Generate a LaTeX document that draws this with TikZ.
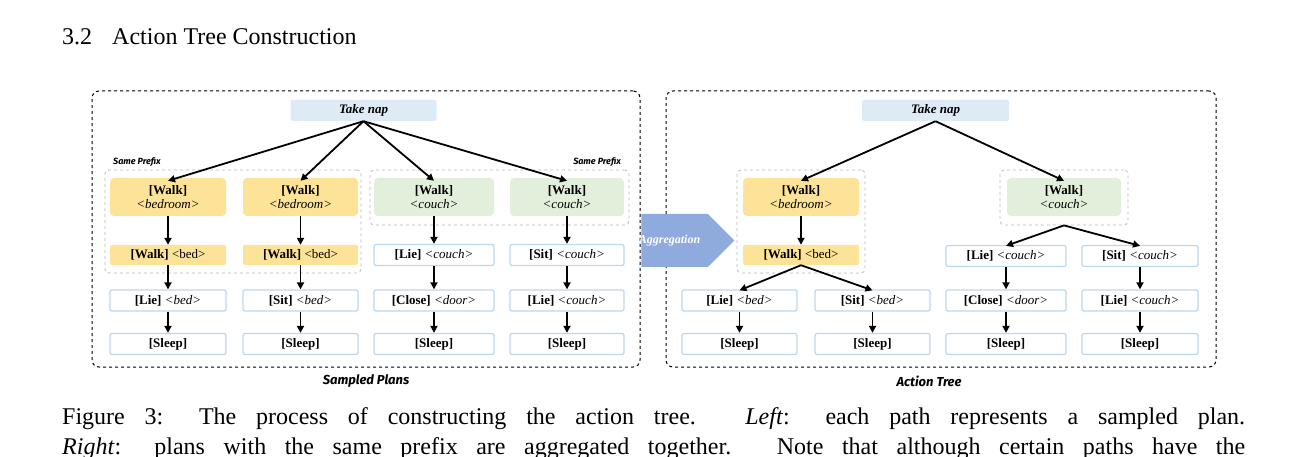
\documentclass[tikz,border=0pt]{standalone}
\usepackage{fontspec}
\setmainfont{Liberation Serif}
\newfontfamily\comicf{Fira Sans}
\usetikzlibrary{arrows.meta,shapes.arrows}
\definecolor{ylw}{HTML}{FDE398}
\definecolor{grn}{HTML}{E2EFDA}
\definecolor{lblue}{HTML}{DEEBF7}
\definecolor{bord}{HTML}{BDD7EE}
\definecolor{aggc}{HTML}{8FAADC}
\tikzset{
 every node/.style={inner sep=0pt, font=\fontsize{13}{14}\selectfont},
 tn/.style={fill=lblue, rounded corners=1.5pt, minimum width=146pt, minimum height=21pt, font=\fontsize{13}{14}\selectfont\bfseries\itshape},
 walkY/.style={fill=ylw, rounded corners=4pt, minimum height=38pt, align=center},
 walkG/.style={fill=grn, rounded corners=4pt, minimum height=38pt, align=center},
 bedY/.style={fill=ylw, rounded corners=2pt, minimum height=20pt},
 act/.style={draw=bord, line width=1.3pt, fill=white, rounded corners=2pt, minimum height=21pt},
 pfxbox/.style={draw=gray!55, dashed, rounded corners=4pt, line width=0.8pt},
 outerbox/.style={draw=black, dashed, rounded corners=7pt, line width=1pt},
 arr/.style={-{Triangle[length=7pt,width=7pt]}, line width=1.8pt},
 lab/.style={font=\comicf\fontsize{9}{10}\selectfont\bfseries\itshape},
 biglab/.style={font=\comicf\fontsize{13}{14}\selectfont\bfseries\itshape},
}
\begin{document}
\begin{tikzpicture}[x=1pt,y=-1pt]
\useasboundingbox (0,0) rectangle (1307,457);
\node[anchor=base west, font=\fontsize{24}{26}\selectfont] (hdr) at (62,45) {3.2\hspace{20pt}\textsc{Action Tree Construction}};
% outer boxes
\node[outerbox, minimum width=548pt, minimum height=276pt] (OL) at (366,229) {};
\node[outerbox, minimum width=550pt, minimum height=276pt] (OR) at (941,229) {};
\node[biglab] (lsp) at (366,381) {Sampled Plans};
\node[biglab] (lat) at (929,381) {Action Tree};
% prefix boxes
\node[pfxbox, minimum width=256pt, minimum height=103pt] (PL) at (233,221.5) {};
\node[pfxbox, minimum width=259pt, minimum height=55pt] (PR) at (499.5,197.5) {};
\node[lab, anchor=south west] (spl) at (113,167) {Same Prefix};
\node[lab, anchor=south east] (spr) at (621,167) {Same Prefix};
% left tree
\node[tn] (tnL) at (363.5,110.5) {Take nap};
\node[walkY, minimum width=116pt] (W1) at (168,197) {\textbf{[Walk]}\\\textit{<bedroom>}};
\node[walkY, minimum width=115pt] (W2) at (300.5,197) {\textbf{[Walk]}\\\textit{<bedroom>}};
\node[walkG, minimum width=120pt] (W3) at (434,197) {\textbf{[Walk]}\\\textit{<couch>}};
\node[walkG, minimum width=114pt] (W4) at (567,197) {\textbf{[Walk]}\\\textit{<couch>}};
\node[bedY, minimum width=116pt] (B1) at (168,255) {\textbf{[Walk]} <bed>};
\node[bedY, minimum width=115pt] (B2) at (300.5,255) {\textbf{[Walk]} <bed>};
\node[act, minimum width=120pt] (C3a) at (434,255) {\textbf{[Lie]} \textit{<couch>}};
\node[act, minimum width=114pt] (C4a) at (567,255) {\textbf{[Sit]} \textit{<couch>}};
\node[act, minimum width=116pt] (C1b) at (168,300.5) {\textbf{[Lie]} \textit{<bed>}};
\node[act, minimum width=115pt] (C2b) at (300.5,300.5) {\textbf{[Sit]} \textit{<bed>}};
\node[act, minimum width=120pt] (C3b) at (434,300.5) {\textbf{[Close]} \textit{<door>}};
\node[act, minimum width=114pt] (C4b) at (567,300.5) {\textbf{[Lie]} \textit{<couch>}};
\node[act, minimum width=116pt] (S1) at (168,344) {\textbf{[Sleep]}};
\node[act, minimum width=115pt] (S2) at (300.5,344) {\textbf{[Sleep]}};
\node[act, minimum width=120pt] (S3) at (434,344) {\textbf{[Sleep]}};
\node[act, minimum width=114pt] (S4) at (567,344) {\textbf{[Sleep]}};
\foreach \w in {W1,W2,W3,W4} \draw[arr] (tnL.south) -- ([yshift=-3pt]\w.north);
\draw[arr] (W1) -- (B1); \draw[arr] (B1) -- (C1b); \draw[arr] (C1b) -- (S1);
\draw[arr] (W2) -- (B2); \draw[arr] (B2) -- (C2b); \draw[arr] (C2b) -- (S2);
\draw[arr] (W3) -- (C3a); \draw[arr] (C3a) -- (C3b); \draw[arr] (C3b) -- (S3);
\draw[arr] (W4) -- (C4a); \draw[arr] (C4a) -- (C4b); \draw[arr] (C4b) -- (S4);
% aggregation arrow
\node[single arrow, fill=aggc, minimum height=93pt, minimum width=53pt, single arrow head extend=0pt, single arrow tip angle=90, inner sep=0pt, text=white, font=\fontsize{12}{13}\selectfont\bfseries\itshape] (agg) at (674.5,240.5) {\hspace{-10pt}Aggregation};
% right tree
\node[pfxbox, minimum width=128pt, minimum height=103pt] (PA) at (801,221.5) {};
\node[pfxbox, minimum width=128pt, minimum height=55pt] (PB) at (1064,197.5) {};
\node[tn, minimum width=147pt] (tnR) at (935.5,110.5) {Take nap};
\node[walkY, minimum width=116pt] (RW1) at (801,197) {\textbf{[Walk]}\\\textit{<bedroom>}};
\node[bedY, minimum width=116pt] (RB1) at (801,255) {\textbf{[Walk]} <bed>};
\node[walkG, minimum width=114pt] (RW2) at (1064,197) {\textbf{[Walk]}\\\textit{<couch>}};
\node[act, minimum width=115pt] (RL1) at (739.5,300.5) {\textbf{[Lie]} \textit{<bed>}};
\node[act, minimum width=115pt] (RS1) at (872.5,300.5) {\textbf{[Sit]} \textit{<bed>}};
\node[act, minimum width=115pt] (RZ1) at (739.5,344) {\textbf{[Sleep]}};
\node[act, minimum width=115pt] (RZ2) at (872.5,344) {\textbf{[Sleep]}};
\node[act, minimum width=120pt] (RLc) at (1006,256) {\textbf{[Lie]} \textit{<couch>}};
\node[act, minimum width=116pt] (RSc) at (1140,256) {\textbf{[Sit]} \textit{<couch>}};
\node[act, minimum width=120pt] (RCl) at (1006,300.5) {\textbf{[Close]} \textit{<door>}};
\node[act, minimum width=116pt] (RLc2) at (1140,300.5) {\textbf{[Lie]} \textit{<couch>}};
\node[act, minimum width=120pt] (RZ3) at (1006,344) {\textbf{[Sleep]}};
\node[act, minimum width=116pt] (RZ4) at (1140,344) {\textbf{[Sleep]}};
\draw[arr] (tnR.south) -- ([yshift=-3pt]RW1.north);
\draw[arr] (tnR.south) -- ([yshift=-3pt]RW2.north);
\draw[arr] (RW1) -- (RB1);
\draw[arr] (RB1.south) -- ([yshift=-1pt]RL1.north);
\draw[arr] (RB1.south) -- ([yshift=-1pt]RS1.north);
\draw[arr] (RL1) -- (RZ1); \draw[arr] (RS1) -- (RZ2);
\draw[arr] (PB.south) -- ([yshift=-1pt]RLc.north);
\draw[arr] (PB.south) -- ([yshift=-1pt]RSc.north);
\draw[arr] (RLc) -- (RCl); \draw[arr] (RCl) -- (RZ3);
\draw[arr] (RSc) -- (RLc2); \draw[arr] (RLc2) -- (RZ4);
% caption
\begin{scope}
\clip (0,395) rectangle (1307,457);
\node[anchor=base west, font=\fontsize{24}{30}\selectfont] (cap1) at (62,425) {\parbox{1183pt}{\parfillskip=0pt Figure 3: The process of constructing the action tree. \textit{Left}: each path represents a sampled plan.}};
\node[anchor=base west, font=\fontsize{24}{30}\selectfont] (cap2) at (62,455) {\parbox{1183pt}{\parfillskip=0pt \textit{Right}: plans with the same prefix are aggregated together. Note that although certain paths have the}};
\end{scope}
\end{tikzpicture}
\end{document}
